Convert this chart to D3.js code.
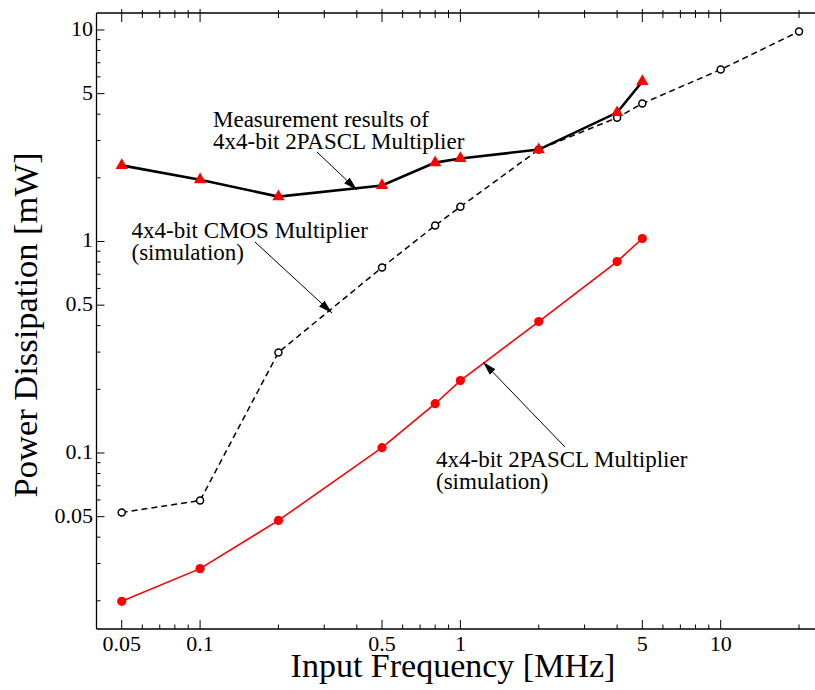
<!DOCTYPE html>
<html>
<head>
<meta charset="utf-8">
<script src="https://cdn.jsdelivr.net/npm/d3@7"></script>
<style>
  html, body { margin: 0; padding: 0; background: #fff; }
  svg { display: block; font-family: "Liberation Serif", "Times New Roman", serif; }
</style>
</head>
<body>
<svg id="chart" width="815" height="690"></svg>
<script>
// ---- Data ----
const frequencies = [0.05, 0.1, 0.2, 0.5, 0.8, 1, 2, 4, 5];
const measured2PASCL = [2.29, 1.96, 1.63, 1.84, 2.36, 2.47, 2.72, 4.07, 5.71];
const cmosFreq = [0.05, 0.1, 0.2, 0.5, 0.8, 1, 2, 4, 5, 10, 20];
const cmosSim = [0.0523, 0.0596, 0.299, 0.754, 1.19, 1.46, 2.72, 3.85, 4.49, 6.5, 9.84];
const sim2PASCL = [0.0199, 0.0284, 0.048, 0.106, 0.171, 0.220, 0.418, 0.804, 1.033];

const xTickLabels = [0.05, 0.1, 0.5, 1, 5, 10];
const yTickLabels = [0.05, 0.1, 0.5, 1, 5, 10];

const xTitle = "Input Frequency [MHz]";
const yTitle = "Power Dissipation [mW]";

(function () {
// ---- Layout ----
const svg = d3.select("#chart");
const pLeft = 96.5, pTop = 13, pBottom = 629;
const x = d3.scaleLog().domain([0.04, 30]).range([pLeft, pLeft + 260.3 * Math.log10(30 / 0.04)]);
const y = d3.scaleLog().domain([0.01488, 12.03]).range([628, pTop]);

const xRight = 815;

function logTicks(lo, hi) {
  const out = [];
  for (let e = -3; e <= 2; e++) {
    for (let m = 1; m <= 9; m++) {
      const v = m * Math.pow(10, e);
      if (v >= lo * 0.9999 && v <= hi * 1.0001) out.push({ v, major: m === 1 });
    }
  }
  return out;
}

const xTicks = logTicks(0.05, 20);
const yTicks = logTicks(0.02, 10);

const axes = svg.append("g").attr("stroke", "#000").attr("fill", "none");

// frame lines
axes.append("line").attr("x1", pLeft).attr("x2", xRight).attr("y1", pBottom).attr("y2", pBottom).attr("stroke-width", 1.3);
axes.append("line").attr("x1", pLeft).attr("x2", xRight).attr("y1", pTop).attr("y2", pTop).attr("stroke-width", 1.3);
axes.append("line").attr("x1", pLeft).attr("x2", pLeft).attr("y1", pTop).attr("y2", pBottom).attr("stroke-width", 1.3);

const isLabeled = (v, arr) => arr.some(a => Math.abs(a - v) / a < 1e-6);

// bottom & top ticks
xTicks.forEach(t => {
  const long = t.major || isLabeled(t.v, xTickLabels);
  const xx = x(t.v);
  axes.append("line").attr("x1", xx).attr("x2", xx)
    .attr("y1", pBottom).attr("y2", pBottom - (long ? 9 : 4.5)).attr("stroke-width", 1);
  axes.append("line").attr("x1", xx).attr("x2", xx)
    .attr("y1", pTop - (long ? 4 : 3)).attr("y2", pTop + (long ? 9 : 5)).attr("stroke-width", 1);
});

// left ticks
yTicks.forEach(t => {
  const long = t.major || isLabeled(t.v, yTickLabels);
  const yy = y(t.v);
  axes.append("line").attr("x1", pLeft).attr("x2", pLeft + (long ? 8 : 4))
    .attr("y1", yy).attr("y2", yy).attr("stroke-width", 1);
});

// tick labels
const fmt = v => String(v);
svg.append("g").selectAll("text").data(xTickLabels).join("text")
  .attr("x", d => x(d)).attr("y", 651)
  .attr("text-anchor", "middle").attr("font-size", 22).attr("fill", "#000")
  .text(fmt);

svg.append("g").selectAll("text").data(yTickLabels).join("text")
  .attr("x", pLeft - 3.5).attr("y", d => y(d) + 6)
  .attr("text-anchor", "end").attr("font-size", 22).attr("fill", "#000")
  .text(fmt);

// titles
svg.append("text").attr("x", 453).attr("y", 677).attr("text-anchor", "middle")
  .attr("font-size", 34).attr("fill", "#000").text(xTitle);
svg.append("text").attr("transform", "translate(37,325) rotate(-90)").attr("text-anchor", "middle")
  .attr("font-size", 34.5).attr("fill", "#000").text(yTitle);

// ---- Series ----
const line = d3.line().x(d => x(d[0])).y(d => y(d[1]));

const cmosData = cmosFreq.map((f, i) => [f, cmosSim[i]]);
const measData = frequencies.map((f, i) => [f, measured2PASCL[i]]);
const simData = frequencies.map((f, i) => [f, sim2PASCL[i]]);

// CMOS dashed
svg.append("path").attr("d", line(cmosData)).attr("fill", "none")
  .attr("stroke", "#000").attr("stroke-width", 1.5).attr("stroke-dasharray", "6,4");
svg.append("g").selectAll("circle").data(cmosData).join("circle")
  .attr("cx", d => x(d[0])).attr("cy", d => y(d[1])).attr("r", 3.5)
  .attr("fill", "#fff").attr("stroke", "#000").attr("stroke-width", 1.5);

// 2PASCL simulation
svg.append("path").attr("d", line(simData)).attr("fill", "none")
  .attr("stroke", "#ff0000").attr("stroke-width", 1.6);
svg.append("g").selectAll("circle").data(simData).join("circle")
  .attr("cx", d => x(d[0])).attr("cy", d => y(d[1])).attr("r", 4.6)
  .attr("fill", "#ff0000");

// measurement
svg.append("path").attr("d", line(measData)).attr("fill", "none")
  .attr("stroke", "#000").attr("stroke-width", 2.6);
const tri = d3.symbol().type(d3.symbolTriangle).size(66);
svg.append("g").selectAll("path").data(measData).join("path")
  .attr("transform", d => `translate(${x(d[0])},${y(d[1])})`)
  .attr("d", tri).attr("fill", "#ff0000");

// ---- Annotations ----
const defs = svg.append("defs");
defs.append("marker").attr("id", "arr").attr("viewBox", "0 0 14 8")
  .attr("refX", 14).attr("refY", 4).attr("markerWidth", 14).attr("markerHeight", 8)
  .attr("markerUnits", "userSpaceOnUse").attr("orient", "auto")
  .append("path").attr("d", "M0,0 L14,4 L0,8 Z").attr("fill", "#000");

function annotate(lines, tx, ty, dy, ax1, ay1, ax2, ay2) {
  const g = svg.append("g");
  lines.forEach((s, i) => {
    g.append("text").attr("x", tx).attr("y", ty + i * dy).attr("font-size", 23)
      .attr("fill", "#000").text(s);
  });
  g.append("line").attr("x1", ax1).attr("y1", ay1).attr("x2", ax2).attr("y2", ay2)
    .attr("stroke", "#000").attr("stroke-width", 1).attr("marker-end", "url(#arr)");
}

annotate(["Measurement results of", "4x4-bit 2PASCL Multiplier"], 213, 127, 22, 317, 152, 357, 190);
annotate(["4x4-bit CMOS Multiplier", "(simulation)"], 131.5, 238, 22, 255, 242, 332, 313);
annotate(["4x4-bit 2PASCL Multiplier", "(simulation)"], 436, 467, 22, 565, 447, 483, 362);
})();
</script>
</body>
</html>
